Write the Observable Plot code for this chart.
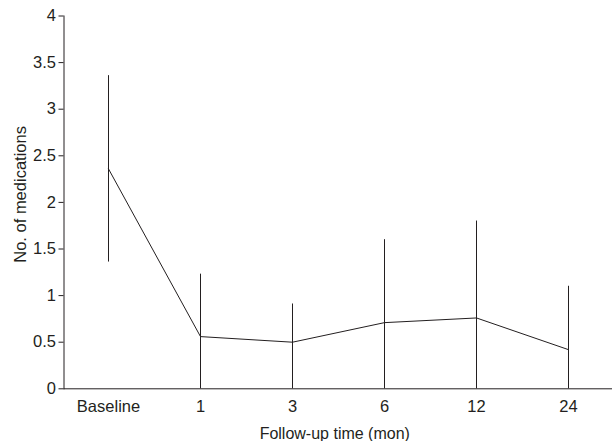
<!DOCTYPE html>
<html>
<head>
<meta charset="utf-8">
<script src="https://cdn.jsdelivr.net/npm/d3@7"></script>
<script src="https://cdn.jsdelivr.net/npm/@observablehq/plot@0.6"></script>
<style>
  html, body { margin: 0; padding: 0; background: #fff; }
  svg { display: block; }
</style>
</head>
<body>
<div id="chart"></div>
<script>
const timepoints = ["Baseline", "1", "3", "6", "12", "24"];
const meanMeds   = [2.36, 0.56, 0.50, 0.71, 0.76, 0.42];
const errLow     = [1.36, 0, 0, 0, 0, 0];
const errHigh    = [3.36, 1.23, 0.91, 1.60, 1.80, 1.10];
const yTicks     = [0, 0.5, 1, 1.5, 2, 2.5, 3, 3.5, 4];
const yLabel     = "No. of medications";
const xLabel     = "Follow-up time (mon)";

const data = timepoints.map((t, i) => ({t, mean: meanMeds[i], lo: errLow[i], hi: errHigh[i]}));
const ink = "#231f20";

const chart = Plot.plot({
  width: 612,
  height: 441,
  marginLeft: 63.5,
  marginRight: 0,
  marginTop: 15.5,
  marginBottom: 52.7,
  style: {fontFamily: "'Liberation Sans', Arial, Helvetica, sans-serif", fontSize: "16px", color: ink, background: "#fff"},
  x: {type: "point", domain: timepoints, padding: 0.465, insetLeft: 1},
  y: {domain: [0, 4]},
  marks: [
    Plot.axisY({ticks: yTicks, tickFormat: d => String(d), tickSize: 5, tickPadding: 3, label: null, stroke: ink, fill: ink, strokeWidth: 1, fontSize: 16.5}),
    Plot.axisX({tickSize: 0, tickPadding: 11, label: null, fill: ink, fontSize: 16.5}),
    Plot.frame({anchor: "left", stroke: ink, strokeWidth: 1}),
    Plot.ruleY([0], {stroke: ink, strokeWidth: 1}),
    Plot.ruleX(data, {x: "t", y1: "lo", y2: "hi", stroke: ink, strokeWidth: 1}),
    Plot.line(data, {x: "t", y: "mean", stroke: ink, strokeWidth: 1}),
    Plot.text([yLabel], {text: d => d, frameAnchor: "left", rotate: -90, dx: -38.5, dy: -8, lineAnchor: "bottom", textAnchor: "middle", fill: ink, fontSize: 16.5}),
    Plot.text([xLabel], {text: d => d, frameAnchor: "bottom", dx: -3.5, dy: 50, lineAnchor: "bottom", textAnchor: "middle", fill: ink, fontSize: 16})
  ]
});
document.getElementById("chart").appendChild(chart);
</script>
</body>
</html>
